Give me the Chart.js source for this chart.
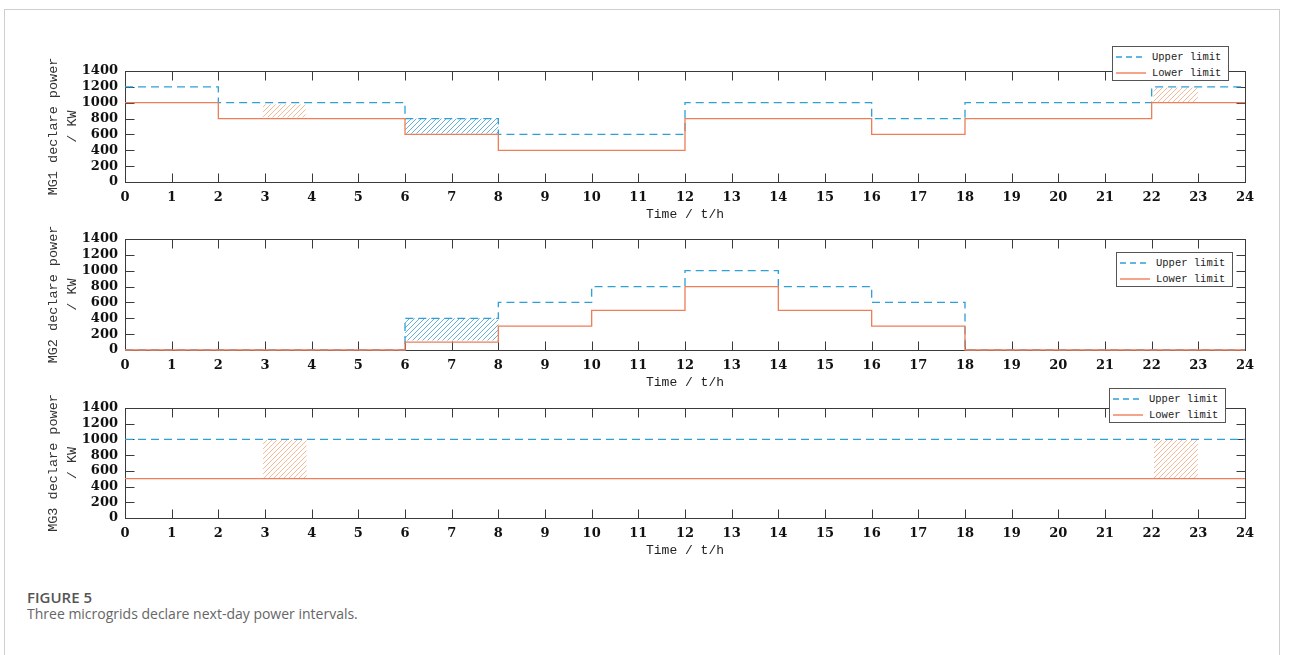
<!DOCTYPE html>
<html>
<head>
<meta charset="utf-8">
<title>Three microgrids declare next-day power intervals</title>
<script src="https://cdn.jsdelivr.net/npm/chart.js@4/dist/chart.umd.min.js"></script>
<style>
  body { margin: 0; width: 1290px; height: 655px; background: #fff; position: relative; overflow: hidden; }
  #card { position: absolute; left: 4px; top: 9px; width: 1276px; height: 700px; border: 1px solid #cfcfcf; box-sizing: border-box; }
  .panel { position: absolute; left: 0; }
  .legend { position: absolute; width: 117px; height: 35px; background: #fff; border: 1px solid #555; box-sizing: border-box; font: 10.5px "Liberation Mono", monospace; color: #222; }
  .legend .row { position: absolute; left: 3px; height: 14px; display: flex; align-items: center; }
  .legend .row span { margin-left: 6px; white-space: pre; }
  .legend svg { display: block; }
  #fig { position: absolute; left: 27px; top: 587px; font: 600 15px "Open Sans", sans-serif; color: #555; }
  #caption { position: absolute; left: 27px; top: 604px; font: 14px "Open Sans", sans-serif; color: #666; }
</style>
</head>
<body>
<div id="card"></div>

<div class="panel" style="top:40px"><canvas id="mg1" width="1290" height="190"></canvas></div>
<div class="panel" style="top:208px"><canvas id="mg2" width="1290" height="190"></canvas></div>
<div class="panel" style="top:377px"><canvas id="mg3" width="1290" height="189"></canvas></div>

<div class="legend" style="left:1112px; top:46px"></div>
<div class="legend" style="left:1116px; top:252px"></div>
<div class="legend" style="left:1109px; top:388px"></div>

<div id="fig">FIGURE 5</div>
<div id="caption">Three microgrids declare next-day power intervals.</div>

<script>
// hours 0..24, value at hour i holds until hour i+1 (last value repeated to close the day)
const hours = [0, 1, 2, 3, 4, 5, 6, 7, 8, 9, 10, 11, 12, 13, 14, 15, 16, 17, 18, 19, 20, 21, 22, 23, 24];

const mg1Upper = [1200, 1200, 1000, 1000, 1000, 1000, 800, 800, 600, 600, 600, 600, 1000, 1000, 1000, 1000, 800, 800, 1000, 1000, 1000, 1000, 1200, 1200, 1200];
const mg1Lower = [1000, 1000, 800, 800, 800, 800, 600, 600, 400, 400, 400, 400, 800, 800, 800, 800, 600, 600, 800, 800, 800, 800, 1000, 1000, 1000];

const mg2Upper = [0, 0, 0, 0, 0, 0, 400, 400, 600, 600, 800, 800, 1000, 1000, 800, 800, 600, 600, 0, 0, 0, 0, 0, 0, 0];
const mg2Lower = [0, 0, 0, 0, 0, 0, 100, 100, 300, 300, 500, 500, 800, 800, 500, 500, 300, 300, 0, 0, 0, 0, 0, 0, 0];

const mg3Upper = [1000, 1000, 1000, 1000, 1000, 1000, 1000, 1000, 1000, 1000, 1000, 1000, 1000, 1000, 1000, 1000, 1000, 1000, 1000, 1000, 1000, 1000, 1000, 1000, 1000];
const mg3Lower = [500, 500, 500, 500, 500, 500, 500, 500, 500, 500, 500, 500, 500, 500, 500, 500, 500, 500, 500, 500, 500, 500, 500, 500, 500];

// hatched intervals: [from hour, to hour, low kW, high kW]
const mg1OrangeBands = [[2.96, 3.87, 815, 980], [22.04, 22.99, 1005, 1190]];
const mg1BlueBands = [[6, 8, 610, 800]];
const mg2OrangeBands = [];
const mg2BlueBands = [[6, 8, 120, 400]];
const mg3OrangeBands = [[2.96, 3.89, 505, 995], [22.05, 22.99, 510, 995]];
const mg3BlueBands = [];

const yTicks = [0, 200, 400, 600, 800, 1000, 1200, 1400];
const legendLabels = ['Upper limit', 'Lower limit'];

const UPPER_COLOR = '#2f9fd8';
const LOWER_COLOR = '#ef7d57';
const ORANGE_HATCH = '#f6b998';
const BLUE_HATCH = '#68b0dc';

function hatchPattern(ctx, color) {
  const c = document.createElement('canvas');
  c.width = 5;
  c.height = 5;
  const g = c.getContext('2d');
  g.strokeStyle = color;
  g.lineWidth = 1;
  g.beginPath();
  g.moveTo(0, 5); g.lineTo(5, 0);
  g.moveTo(-1, 1); g.lineTo(1, -1);
  g.moveTo(4, 6); g.lineTo(6, 4);
  g.stroke();
  return ctx.createPattern(c, 'repeat');
}

// hatch bands + boxed frame with inward ticks, drawn under the lines
const framePlugin = {
  id: 'frame',
  beforeDatasetsDraw(chart, args, opts) {
    const { ctx, chartArea: a, scales: { x, y } } = chart;
    ctx.save();
    const drawBands = (bands, color) => {
      ctx.fillStyle = hatchPattern(ctx, color);
      bands.forEach(b => {
        const x0 = x.getPixelForValue(b[0]);
        const x1 = x.getPixelForValue(b[1]);
        const y0 = y.getPixelForValue(b[2]);
        const y1 = y.getPixelForValue(b[3]);
        ctx.fillRect(x0, y1, x1 - x0, y0 - y1);
      });
    };
    drawBands(opts.orange, ORANGE_HATCH);
    drawBands(opts.blue, BLUE_HATCH);

    const L = Math.round(a.left) + 0.5, R = Math.round(a.right) + 0.5;
    const T = Math.round(a.top) + 0.5, B = Math.round(a.bottom) + 0.5;
    ctx.strokeStyle = '#3a3a3a';
    ctx.lineWidth = 1;
    ctx.strokeRect(L, T, R - L, B - T);
    ctx.beginPath();
    x.ticks.forEach(t => {
      const px = Math.round(x.getPixelForValue(t.value)) + 0.5;
      ctx.moveTo(px, B); ctx.lineTo(px, B - 9);
      ctx.moveTo(px, T); ctx.lineTo(px, T + 9);
    });
    y.ticks.forEach(t => {
      const py = Math.round(y.getPixelForValue(t.value)) + 0.5;
      ctx.moveTo(L, py); ctx.lineTo(L + 9, py);
      ctx.moveTo(R, py); ctx.lineTo(R - 9, py);
    });
    ctx.stroke();
    ctx.restore();
  }
};

function makePanel(id, name, upper, lower, orange, blue) {
  const tickFont = { family: 'DejaVu Serif', weight: 'bold', size: 13 };
  new Chart(document.getElementById(id), {
    type: 'line',
    data: {
      datasets: [{
        label: legendLabels[1],
        data: hours.map((h, i) => ({ x: h, y: lower[i] })),
        borderColor: LOWER_COLOR,
        borderWidth: 1.3,
        stepped: true,
        pointRadius: 0,
        fill: false,
        clip: false,
        order: 0
      }, {
        label: legendLabels[0],
        data: hours.map((h, i) => ({ x: h, y: upper[i] })),
        borderColor: UPPER_COLOR,
        borderWidth: 1.3,
        borderDash: [8, 5],
        stepped: true,
        pointRadius: 0,
        fill: false,
        clip: false,
        order: 1
      }]
    },
    options: {
      responsive: false,
      animation: false,
      layout: { padding: { left: 0, right: 45, top: 31, bottom: 0 } },
      plugins: {
        legend: { display: false },
        tooltip: { enabled: false },
        frame: { orange: orange, blue: blue }
      },
      scales: {
        x: {
          type: 'linear',
          min: 0,
          max: 24,
          grid: { display: false, drawTicks: false },
          border: { display: false },
          ticks: { stepSize: 1, padding: 8, color: '#111', font: tickFont, maxRotation: 0, autoSkip: false },
          title: {
            display: true,
            text: 'Time / t/h',
            color: '#222',
            font: { family: 'Liberation Mono', size: 13, lineHeight: 1.2 },
            padding: { top: 0, bottom: 8 }
          },
          afterFit(scale) { scale.height = 48; }
        },
        y: {
          min: 0,
          max: 1400,
          grid: { display: false, drawTicks: false },
          border: { display: false },
          afterBuildTicks(scale) { scale.ticks = yTicks.map(v => ({ value: v })); },
          ticks: { padding: 7, color: '#111', font: tickFont, autoSkip: false, callback: v => String(v) },
          title: {
            display: true,
            text: [name + ' declare power', '/ KW'],
            color: '#333',
            font: { family: 'Liberation Mono', size: 13.5, lineHeight: 1.4 },
            padding: { top: 44, bottom: 0 }
          },
          afterFit(scale) { scale.width = 125; }
        }
      }
    },
    plugins: [framePlugin]
  });
}

makePanel('mg1', 'MG1', mg1Upper, mg1Lower, mg1OrangeBands, mg1BlueBands);
makePanel('mg2', 'MG2', mg2Upper, mg2Lower, mg2OrangeBands, mg2BlueBands);
makePanel('mg3', 'MG3', mg3Upper, mg3Lower, mg3OrangeBands, mg3BlueBands);

// legends (real text), one per panel
document.querySelectorAll('.legend').forEach(box => {
  box.innerHTML =
    '<div class="row" style="top:3px"><svg width="30" height="4"><line x1="0" y1="2" x2="30" y2="2" stroke="' + UPPER_COLOR + '" stroke-width="1.4" stroke-dasharray="6 4"/></svg><span>' + legendLabels[0] + '</span></div>' +
    '<div class="row" style="top:19px"><svg width="30" height="4"><line x1="0" y1="2" x2="30" y2="2" stroke="' + LOWER_COLOR + '" stroke-width="1.4"/></svg><span>' + legendLabels[1] + '</span></div>';
});
</script>
</body>
</html>
